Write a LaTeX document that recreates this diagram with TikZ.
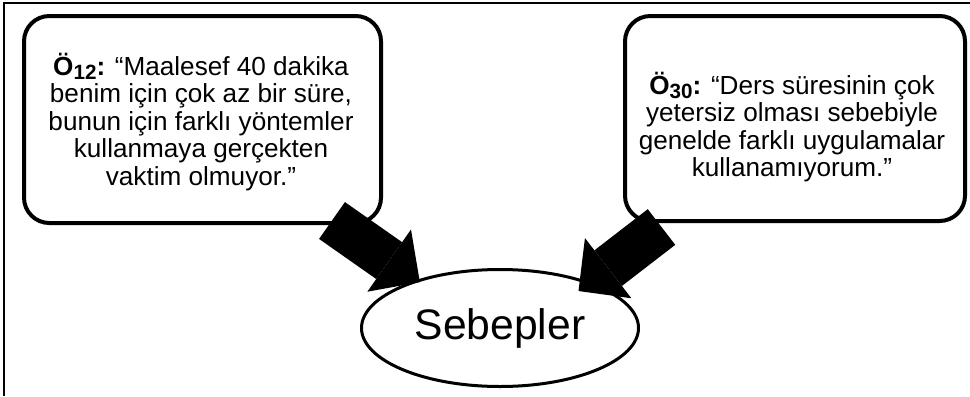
\documentclass[tikz,border=0pt]{standalone}
\usepackage{fontspec}
\setmainfont{Liberation Sans}
\usetikzlibrary{arrows.meta,shapes.geometric}
\newcommand\ogsub[1]{\raisebox{-0.17em}{\fontsize{15.5pt}{15.5pt}\selectfont\bfseries #1}}

\begin{document}
\begin{tikzpicture}[x=0.75pt,y=-0.75pt,
  quotebox/.style={draw,line width=3pt,rounded corners=19pt,fill=white},
  quotetext/.style={align=center,inner sep=0pt,font=\fontsize{19.6pt}{20.6pt}\selectfont},
  blockarrow/.style={line width=33.75pt,-{Triangle[line width=0pt,length=28.1pt,width=57pt]}}]
  \useasboundingbox (0,0) rectangle (970,396);
  \draw[line width=1.2pt] (4,396)--(4,3)--(970,3);
  % quote boxes
  \node[quotebox,minimum width=267.75pt,minimum height=155.25pt] (o12) at (202.5,119.5) {};
  \node[quotebox,minimum width=255pt,minimum height=153.75pt] (o30) at (795,118.5) {};
  \node[quotetext] (t12) at (201,122) {\textbf{Ö\ogsub{12}:} “Maalesef 40 dakika\\
    benim için çok az bir süre,\\ bunun için farklı yöntemler\\ kullanmaya gerçekten\\ vaktim olmuyor.”};
  \node[quotetext] (t30) at (792,127) {\textbf{Ö\ogsub{30}:} “Ders süresinin çok\\
    yetersiz olması sebebiyle\\ genelde farklı uygulamalar\\ kullanamıyorum.”};
  % result
  \node[ellipse,draw,line width=2.25pt,fill=white,inner sep=0pt,minimum width=207.75pt,minimum height=87.75pt,
    font=\fontsize{32pt}{36pt}\selectfont] (sebep) at (500,328) {Sebepler};
  \coordinate (s12) at (332,220.5);
  \coordinate (s30) at (661.5,227);
  \draw[blockarrow,shorten >=-3pt] (s12) -- (sebep.150);
  \draw[blockarrow,shorten >=-11pt] (s30) -- (sebep.27.6);
\end{tikzpicture}
\end{document}
